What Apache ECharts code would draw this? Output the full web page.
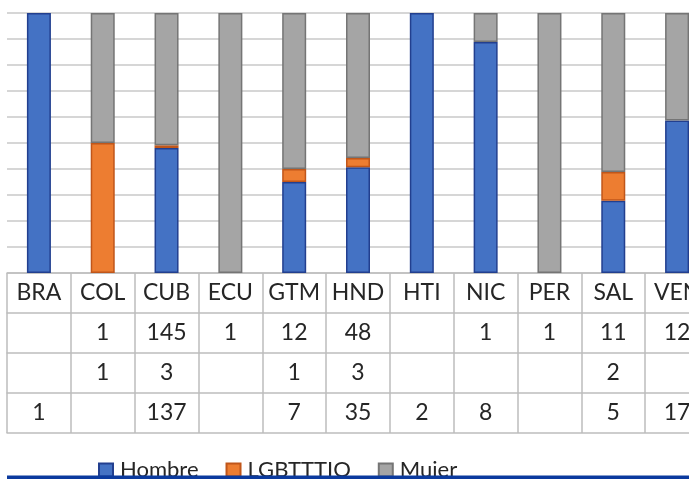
<!DOCTYPE html>
<html>
<head>
<meta charset="utf-8">
<script src="https://cdn.jsdelivr.net/npm/echarts@6/dist/echarts.min.js"></script>
<style>
  html, body { margin: 0; padding: 0; background: #fff; }
  #chart { width: 689px; height: 479px; }
</style>
</head>
<body>
<div id="chart"></div>
<script>
const countries = ["BRA", "COL", "CUB", "ECU", "GTM", "HND", "HTI", "NIC", "PER", "SAL", "VEN"];
// table rows, top to bottom (blank cells = null)
const mujer = [null, 1, 145, 1, 12, 48, null, 1, 1, 11, 12];
const lgbt = [null, 1, 3, null, 1, 3, null, null, null, 2, null];
const hombre = [1, null, 137, null, 7, 35, 2, 8, null, 5, 17];

const seriesNames = ["Hombre", "LGBTTTIQ", "Mujer"];
const fillColors = ["#4472c4", "#ed7d31", "#a5a5a5"];
const edgeColors = ["#223f8f", "#c0561a", "#757575"];

const FONT = "Lato, 'Open Sans', sans-serif";
const TEXT = "#262626";
const BORDER = "#bdbdbd";

function share(values, index) {
  const total = (mujer[index] || 0) + (lgbt[index] || 0) + (hombre[index] || 0);
  const v = values[index];
  return v ? (v / total) * 100 : null;
}

function tableAxis(rowValues, offset, showLabels) {
  return {
    type: "category",
    gridIndex: 0,
    position: "bottom",
    offset,
    data: rowValues.map((v) => (v == null ? "" : String(v))),
    axisLine: { show: true, lineStyle: { color: BORDER, width: 1.5 } },
    axisTick: { show: showLabels, interval: 0, length: 40, lineStyle: { color: BORDER, width: 1.5 } },
    axisLabel: {
      show: showLabels,
      interval: 0,
      margin: 20,
      verticalAlign: "middle",
      color: TEXT,
      fontFamily: FONT,
      fontSize: 23,
    },
    splitLine: { show: false },
  };
}

const chart = echarts.init(document.getElementById("chart"), null, { renderer: "canvas" });
const rows = [hombre, lgbt, mujer];

chart.setOption({
  animation: false,
  grid: { left: 7, top: 13, width: 702, height: 260, outerBoundsMode: "none", containLabel: false },
  legend: {
    data: seriesNames,
    left: 98,
    top: 459,
    padding: 0,
    itemWidth: 14,
    itemHeight: 13,
    itemGap: 27,
    icon: "rect",
    textStyle: { color: TEXT, fontFamily: FONT, fontSize: 22, padding: [0, 0, 0, 2] },
  },
  xAxis: [
    tableAxis(countries, 0, true),
    tableAxis(mujer, 40, true),
    tableAxis(lgbt, 80, true),
    tableAxis(hombre, 120, true),
    tableAxis(countries.map(() => null), 160, false),
  ],
  yAxis: {
    type: "value",
    min: 0,
    max: 100,
    interval: 10,
    axisLine: { show: false },
    axisTick: { show: false },
    axisLabel: { show: false },
    splitLine: { lineStyle: { color: "#c8c8c8", width: 1.5 } },
  },
  series: seriesNames.map((name, s) => ({
    name,
    type: "bar",
    stack: "total",
    xAxisIndex: 0,
    barWidth: 24,
    itemStyle: { color: fillColors[s], borderColor: edgeColors[s], borderWidth: 1.5 },
    data: countries.map((_, i) => share(rows[s], i)),
  })),
  graphic: [
    {
      type: "rect",
      left: 7,
      top: 475.5,
      z: 100,
      shape: { width: 690, height: 4 },
      style: { fill: "#0b3a9e" },
    },
  ],
});
</script>
</body>
</html>
